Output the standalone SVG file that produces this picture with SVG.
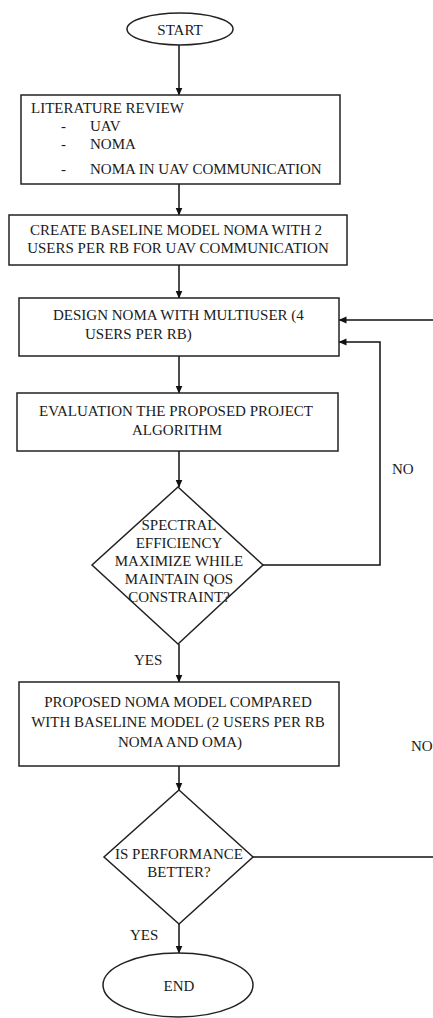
<svg xmlns="http://www.w3.org/2000/svg" width="433" height="1018" viewBox="0 0 433 1018">
<defs>
<marker id="ah" markerWidth="8" markerHeight="8" refX="7.5" refY="4" orient="auto" markerUnits="userSpaceOnUse">
<path d="M0,0.5 L8,4 L0,7.5 Z" fill="#111"/>
</marker>
</defs>
<style>
.s{fill:#fff;stroke:#222;stroke-width:1.5}
.t{font-family:"Liberation Serif","Times New Roman",serif;font-size:15px;fill:#1a1a1a}
.c{text-anchor:middle}
.l{fill:none;stroke:#111;stroke-width:1.5}
</style>
<rect width="433" height="1018" fill="#fff"/>
<g id="connectors">
<path class="l" d="M179,45 V95" marker-end="url(#ah)"/>
<path class="l" d="M179,184 V215" marker-end="url(#ah)"/>
<path class="l" d="M179,265 V298" marker-end="url(#ah)"/>
<path class="l" d="M179,356 V393" marker-end="url(#ah)"/>
<path class="l" d="M179,451 V487" marker-end="url(#ah)"/>
<path class="l" d="M263,565 H380 V342 H339" marker-end="url(#ah)"/>
<path class="l" d="M179,644 V682" marker-end="url(#ah)"/>
<path class="l" d="M179,766 V790" marker-end="url(#ah)"/>
<path class="l" d="M253,857 H433"/>
<path class="l" d="M433,320 H339" marker-end="url(#ah)"/>
<path class="l" d="M179,924 V953" marker-end="url(#ah)"/>
<text class="t" x="392" y="474">NO</text>
<text class="t" x="411" y="751">NO</text>
<text class="t" x="134" y="665">YES</text>
<text class="t" x="130" y="940">YES</text>
</g>
<g id="start">
<ellipse class="s" cx="180" cy="29" rx="53" ry="16"/>
<text class="t c" x="180" y="35">START</text>
</g>
<g id="literature">
<rect class="s" x="21" y="95" width="319" height="89"/>
<text class="t" x="31" y="113">LITERATURE REVIEW</text>
<text class="t" x="61" y="131">-</text>
<text class="t" x="90" y="131">UAV</text>
<text class="t" x="61" y="149">-</text>
<text class="t" x="90" y="149">NOMA</text>
<text class="t" x="61" y="174">-</text>
<text class="t" x="90" y="174">NOMA IN UAV COMMUNICATION</text>
</g>
<g id="baseline">
<rect class="s" x="9" y="215" width="338" height="50"/>
<text class="t c" x="176" y="235">CREATE BASELINE MODEL NOMA WITH 2</text>
<text class="t c" x="178" y="253">USERS PER RB FOR UAV COMMUNICATION</text>
</g>
<g id="design">
<rect class="s" x="19" y="298" width="320" height="58"/>
<text class="t" x="53" y="320">DESIGN NOMA WITH MULTIUSER (4</text>
<text class="t" x="85" y="339">USERS PER RB)</text>
</g>
<g id="evaluation">
<rect class="s" x="17" y="393" width="321" height="58"/>
<text class="t c" x="176" y="416">EVALUATION THE PROPOSED PROJECT</text>
<text class="t c" x="177" y="435">ALGORITHM</text>
</g>
<g id="decision1">
<polygon class="s" points="178,487 263,565 178,644 92,565"/>
<text class="t c" x="179" y="530">SPECTRAL</text>
<text class="t c" x="179" y="548">EFFICIENCY</text>
<text class="t c" x="179" y="566">MAXIMIZE WHILE</text>
<text class="t c" x="179" y="584">MAINTAIN QOS</text>
<text class="t c" x="179" y="602">CONSTRAINT?</text>
</g>
<g id="proposed">
<rect class="s" x="19" y="682" width="320" height="84"/>
<text class="t c" x="178" y="707">PROPOSED NOMA MODEL COMPARED</text>
<text class="t c" x="178" y="727">WITH BASELINE MODEL (2 USERS PER RB</text>
<text class="t c" x="180" y="747">NOMA AND OMA)</text>
</g>
<g id="decision2">
<polygon class="s" points="179,790 253,857 179,924 104,857"/>
<text class="t c" x="179" y="859">IS PERFORMANCE</text>
<text class="t c" x="179" y="877">BETTER?</text>
</g>
<g id="end">
<ellipse class="s" cx="178" cy="985" rx="75" ry="32"/>
<text class="t c" x="179" y="991">END</text>
</g>
</svg>
